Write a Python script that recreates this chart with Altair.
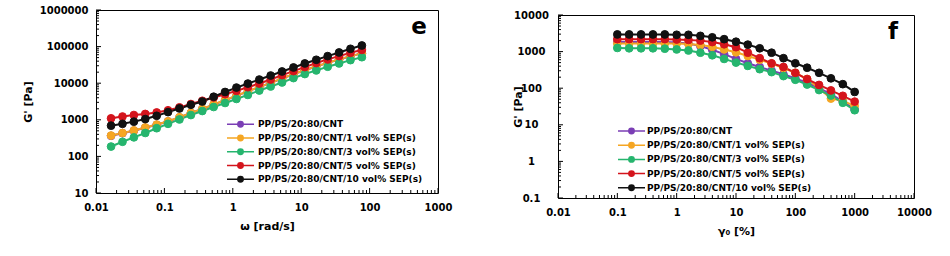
import altair as alt
import pandas as pd

SERIES = [
    "PP/PS/20:80/CNT",
    "PP/PS/20:80/CNT/1 vol% SEP(s)",
    "PP/PS/20:80/CNT/3 vol% SEP(s)",
    "PP/PS/20:80/CNT/5 vol% SEP(s)",
    "PP/PS/20:80/CNT/10 vol% SEP(s)",
]
COLORS = ["#7b3fb5", "#f5a623", "#26b56e", "#d4141c", "#111111"]

# panel e : G' vs omega
OMEGA = [0.0166, 0.0244, 0.0358, 0.0525, 0.0771, 0.113, 0.166, 0.244, 0.358, 0.525,
         0.771, 1.13, 1.66, 2.44, 3.58, 5.25, 7.71, 11.3, 16.6, 24.4, 35.8, 52.5, 77.1]
E_PURPLE = [365, 430, 505, 607, 730, 900, 1160, 1530, 1970, 2600, 3430, 4520, 5960,
            7860, 10130, 13360, 17600, 22680, 28550, 35950, 44220, 54400, 65400]
E_ORANGE = [372, 437, 513, 617, 741, 912, 1175, 1549, 1995, 2630, 3467, 4571, 6026,
            7943, 10230, 13490, 17780, 22910, 28840, 36310, 44670, 54950, 66070]
E_GREEN = [186, 251, 331, 437, 589, 776, 1023, 1349, 1738, 2239, 2884, 3715, 4786,
           6310, 8128, 10470, 13800, 17800, 22400, 28200, 34700, 42700, 51300]
E_RED = [1096, 1230, 1349, 1445, 1585, 1820, 2188, 2692, 3311, 4074, 5012, 6166, 7762,
         9772, 12590, 16600, 21380, 27540, 35480, 44670, 54950, 67610, 81280]
E_BLACK = [692, 776, 891, 1047, 1288, 1622, 2042, 2570, 3162, 4266, 5754, 7586, 9772,
           12590, 16220, 20890, 26920, 34670, 43650, 54950, 69180, 87100, 107200]

# panel f : G' vs strain amplitude
STRAIN = [0.1, 0.158, 0.251, 0.398, 0.631, 1, 1.58, 2.51, 3.98, 6.31, 10, 15.8, 25.1,
          39.8, 63.1, 100, 158, 251, 398, 631, 1000]
F_PURPLE = [1820, 1820, 1820, 1820, 1820, 1778, 1660, 1413, 1122, 851, 631, 479, 380,
            302, 240, 186, 141, 100, 69, 44, 26]
F_ORANGE = [1660, 1660, 1660, 1660, 1660, 1660, 1622, 1514, 1349, 1148, 955, 759, 603,
            468, 355, 263, 178, 100, 52, 45, 33]
F_GREEN = [1259, 1230, 1230, 1230, 1202, 1148, 1072, 933, 794, 631, 501, 407, 331,
           275, 214, 170, 126, 89, 63, 40, 25]
F_RED = [2188, 2188, 2188, 2188, 2188, 2138, 2089, 1995, 1820, 1585, 1318, 933, 661,
         479, 380, 263, 178, 123, 87, 62, 43]
F_BLACK = [2951, 2951, 2951, 2951, 2951, 2884, 2884, 2692, 2455, 2188, 1862, 1549, 1230,
           933, 661, 479, 363, 263, 186, 129, 79]

X_TICKS_E = [0.01, 0.1, 1, 10, 100, 1000]
Y_TICKS_E = [10, 100, 1000, 10000, 100000, 1000000]
X_TICKS_F = [0.01, 0.1, 1, 10, 100, 1000, 10000]
Y_TICKS_F = [0.1, 1, 10, 100, 1000, 10000]

FONT = "DejaVu Sans"
# legend glyph: a line with a dot in the middle (path units scaled by sqrt(size)/2)
SYMBOL = "M-2.25,0H2.25M-0.45,0A0.45,0.45,0,1,0,0.45,0A0.45,0.45,0,1,0,-0.45,0Z"


def long_df(xs, cols):
    rows = []
    for name, ys in zip(SERIES, cols):
        for xv, yv in zip(xs, ys):
            rows.append({"x": xv, "y": yv, "s": name})
    return pd.DataFrame(rows)


def minor(majors):
    return [m * d for d in majors[:-1] for m in range(2, 10)]


def panel(df, xmaj, ymaj, xtitle, ytitle, w, h, ylab_pad, ylab_align, ytitle_x,
          leg_x, leg_y, row_pad, lab_off, letter, let_x, let_y):
    xs = alt.Scale(type="log", domain=[xmaj[0], xmaj[-1]])
    ys = alt.Scale(type="log", domain=[ymaj[0], ymaj[-1]])
    common = dict(grid=False, ticks=False, domain=False, labelFont=FONT,
                  labelFontWeight="bold", labelFontSize=10, labelColor="black",
                  titleFont=FONT, titleFontWeight="bold", titleFontSize=11,
                  titleColor="black", labelFlush=False, labelExpr="datum.value",
                  labelOverlap=False)
    xax = alt.Axis(values=xmaj, title=xtitle, labelPadding=9, titleY=33,
                   titleBaseline="middle", **common)
    yax = alt.Axis(values=ymaj, title=ytitle, labelPadding=ylab_pad,
                   labelAlign=ylab_align, titleX=ytitle_x, titleAngle=-90,
                   titleBaseline="middle", **common)
    X = alt.X("x:Q", scale=xs, axis=xax)
    Y = alt.Y("y:Q", scale=ys, axis=yax)
    cscale = alt.Scale(domain=SERIES, range=COLORS)
    leg = alt.Legend(orient="none", legendX=leg_x, legendY=leg_y, title=None,
                     symbolType=SYMBOL, symbolSize=144, symbolStrokeWidth=1.5,
                     labelFont=FONT, labelFontWeight="bold", labelFontSize=9,
                     labelColor="black", labelLimit=400, rowPadding=row_pad,
                     labelOffset=lab_off, padding=0, symbolOpacity=1)
    C = alt.Color("s:N", scale=cscale, legend=leg)
    S = alt.Stroke("s:N", scale=cscale, legend=leg)

    lines = alt.Chart(df).mark_line(strokeWidth=2).encode(X, Y, color=C)
    pts = alt.Chart(df).mark_point(filled=True, size=60, opacity=1, strokeWidth=1).encode(
        X, Y, color=C, stroke=S)

    xt_maj = alt.Chart(pd.DataFrame({"x": xmaj})).mark_rule(color="black").encode(
        X, y=alt.value(h), y2=alt.value(h - 5))
    xt_min = alt.Chart(pd.DataFrame({"x": minor(xmaj)})).mark_rule(color="black").encode(
        X, y=alt.value(h), y2=alt.value(h - 3))
    yt_maj = alt.Chart(pd.DataFrame({"y": ymaj})).mark_rule(color="black").encode(
        Y, x=alt.value(0), x2=alt.value(5))
    yt_min = alt.Chart(pd.DataFrame({"y": minor(ymaj)})).mark_rule(color="black").encode(
        Y, x=alt.value(0), x2=alt.value(3))

    let = alt.Chart(pd.DataFrame({"t": [letter]})).mark_text(
        font=FONT, fontWeight="bold", fontSize=23, color="black").encode(
        text="t:N", x=alt.value(let_x), y=alt.value(let_y))

    return alt.layer(xt_maj, xt_min, yt_maj, yt_min, lines, pts, let).properties(
        width=w, height=h, view=alt.ViewBackground(stroke="black", strokeWidth=1))


df_e = long_df(OMEGA, [E_PURPLE, E_ORANGE, E_GREEN, E_RED, E_BLACK])
df_f = long_df(STRAIN, [F_PURPLE, F_ORANGE, F_GREEN, F_RED, F_BLACK])

left = panel(df_e, X_TICKS_E, Y_TICKS_E, "ω [rad/s]", "G' [Pa]", 342, 183,
             8, "right", -68, 137.5, 107.3, 0.75, 10.5, "e", 323, 17)
right = panel(df_f, X_TICKS_F, Y_TICKS_F, "γ₀ [%]", "G' [Pa]", 356, 183,
              27, "center", -40, 66.5, 114, 1.2, 8.5, "f", 335, 17)

spacer = alt.Chart(pd.DataFrame({"x": [0]})).mark_point(opacity=0).encode(
    x=alt.value(0), y=alt.value(0)).properties(width=356, height=1)

chart = alt.hconcat(
    left,
    alt.vconcat(spacer, right, spacing=4, bounds="flush"),
    spacing=120, bounds="flush",
).resolve_scale(color="independent", stroke="independent").resolve_legend(
    color="independent", stroke="independent"
).configure_view(strokeWidth=0).properties(
    padding={"left": 21, "top": 4, "right": 5, "bottom": 5}, background="white")

chart.save("out.html", embed_options={"renderer": "svg", "actions": False})
